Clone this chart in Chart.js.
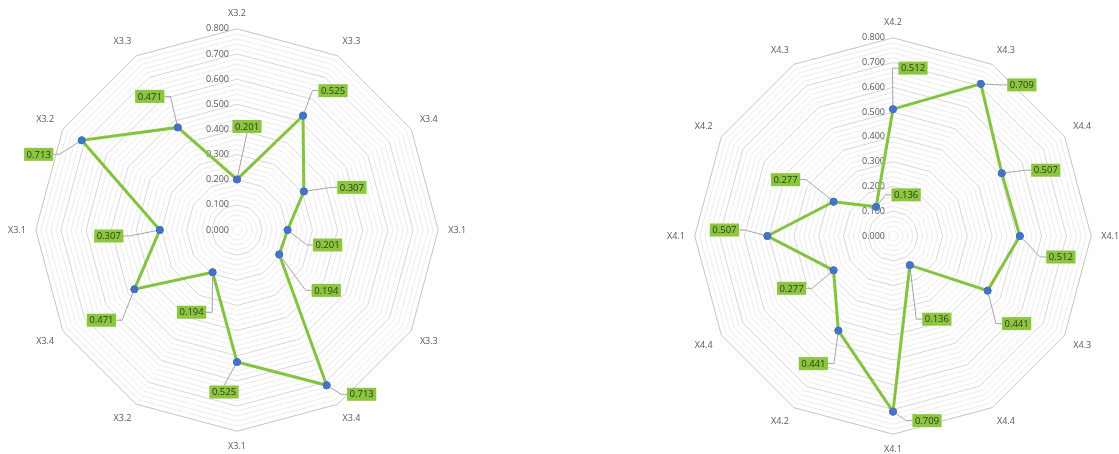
<!DOCTYPE html>
<html>
<head>
<meta charset="utf-8">
<script src="https://cdn.jsdelivr.net/npm/chart.js@4/dist/chart.umd.min.js"></script>
<style>
  html, body { margin: 0; padding: 0; background: #fff; overflow: hidden; width: 1119px; height: 454px; }
  .wrap { position: absolute; }
  #wrapX3 { left: 0px; top: 9px; width: 474px; height: 444px; }
  #wrapX4 { left: 663px; top: 18px; width: 460px; height: 438px; }
</style>
</head>
<body>
<div class="wrap" id="wrapX3"><canvas id="radarX3"></canvas></div>
<div class="wrap" id="wrapX4"><canvas id="radarX4"></canvas></div>
<script>
// Axis labels (clockwise from the top) and values for each radar
const labelsX3 = ['X3.2', 'X3.3', 'X3.4', 'X3.1', 'X3.3', 'X3.4', 'X3.1', 'X3.2', 'X3.4', 'X3.1', 'X3.2', 'X3.3'];
const valuesX3 = [0.201, 0.525, 0.307, 0.201, 0.194, 0.713, 0.525, 0.194, 0.471, 0.307, 0.713, 0.471];

const labelsX4 = ['X4.2', 'X4.3', 'X4.4', 'X4.1', 'X4.3', 'X4.4', 'X4.1', 'X4.2', 'X4.4', 'X4.1', 'X4.2', 'X4.3'];
const valuesX4 = [0.512, 0.709, 0.507, 0.512, 0.441, 0.136, 0.709, 0.441, 0.277, 0.507, 0.277, 0.136];

// Radial scale: light rings every 0.02, labelled rings every 0.1
const scaleMin = 0;
const scaleMax = 0.8;
const ringStep = 0.02;
const tickLabels = ['0.000', '0.100', '0.200', '0.300', '0.400', '0.500', '0.600', '0.700', '0.800'];

// Where each value callout sits relative to its point (layout only, in px)
const calloutShiftX3 = [[10, -53], [30, -25], [48, -4], [40, 15], [47, 36], [35, 9], [-13, 30], [-21, 40], [-33, 31], [-51, 6], [-43, 14], [-28, -31]];
const calloutShiftX4 = [[20, -41], [41, 1], [44, -3], [41, 21], [29, 33], [27, 54], [34, 9], [-25, 33], [-42, 18], [-43, -6], [-48, -22], [30, -12]];

const FONT = "'Open Sans', 'Noto Sans', sans-serif";
const TEXT_GREY = '#595959';
const LINE_GREEN = '#84c240';
const BOX_GREEN = '#8cc63f';
const POINT_BLUE = '#4472c4';

function isMajor(v) {
  const q = v / 0.1;
  return Math.abs(q - Math.round(q)) < 1e-6;
}

// Ring values printed just left of the vertical axis, under the series line
const ringLabelPlugin = {
  id: 'ringLabels',
  beforeDatasetsDraw(chart) {
    const r = chart.scales.r;
    const ctx = chart.ctx;
    ctx.save();
    ctx.font = '9px ' + FONT;
    ctx.fillStyle = TEXT_GREY;
    ctx.textAlign = 'right';
    ctx.textBaseline = 'middle';
    tickLabels.forEach(t => {
      const v = parseFloat(t);
      const y = r.yCenter - r.getDistanceFromCenterForValue(v);
      ctx.fillText(t, r.xCenter - 8, y);
    });
    ctx.restore();
  }
};

// Green value callouts joined to their points by thin grey leader lines
const calloutPlugin = {
  id: 'callouts',
  afterDatasetsDraw(chart, args, opts) {
    const ctx = chart.ctx;
    const meta = chart.getDatasetMeta(0);
    const values = chart.data.datasets[0].data;
    const shifts = opts.shifts;
    ctx.save();
    ctx.font = '9.5px ' + FONT;
    meta.data.forEach((pt, i) => {
      const text = values[i].toFixed(3);
      const w = ctx.measureText(text).width + 5;
      const h = 13;
      const cx = pt.x + shifts[i][0];
      const cy = pt.y + shifts[i][1];
      const left = cx - w / 2, right = cx + w / 2, top = cy - h / 2, bottom = cy + h / 2;

      // leader line
      ctx.strokeStyle = '#a5a5a5';
      ctx.lineWidth = 1;
      ctx.beginPath();
      ctx.moveTo(pt.x, pt.y);
      if (pt.x < left - 2) {
        ctx.lineTo(left - 6, cy);
        ctx.lineTo(left, cy);
      } else if (pt.x > right + 2) {
        ctx.lineTo(right + 6, cy);
        ctx.lineTo(right, cy);
      } else if (pt.y < top) {
        ctx.lineTo(cx, top);
      } else {
        ctx.lineTo(cx, bottom);
      }
      ctx.stroke();

      // box and value
      ctx.fillStyle = BOX_GREEN;
      ctx.fillRect(left, top, w, h);
      ctx.fillStyle = '#2e3a22';
      ctx.textAlign = 'center';
      ctx.textBaseline = 'middle';
      ctx.fillText(text, cx, cy + 0.5);
    });
    ctx.restore();

    // redraw points on top of leader lines
    meta.data.forEach(pt => pt.draw(ctx));
  }
};

function makeRadar(canvasId, labels, values, shifts) {
  return new Chart(document.getElementById(canvasId), {
    type: 'radar',
    data: {
      labels: labels,
      datasets: [{
        data: values,
        borderColor: LINE_GREEN,
        borderWidth: 3,
        backgroundColor: 'transparent',
        fill: false,
        tension: 0,
        pointRadius: 3.5,
        pointBackgroundColor: POINT_BLUE,
        pointBorderColor: POINT_BLUE,
        pointBorderWidth: 1
      }]
    },
    options: {
      responsive: true,
      maintainAspectRatio: false,
      animation: false,
      events: [],
      layout: { padding: 0 },
      plugins: {
        legend: { display: false },
        tooltip: { enabled: false },
        callouts: { shifts: shifts }
      },
      scales: {
        r: {
          min: scaleMin,
          max: scaleMax,
          beginAtZero: true,
          angleLines: { display: false },
          grid: {
            lineWidth: 1,
            color: c => {
              const v = c.tick ? c.tick.value : 0;
              if (Math.abs(v - scaleMax) < 1e-6) return '#c4c4c4';
              return isMajor(v) ? '#d6d6d6' : '#ececec';
            }
          },
          ticks: { display: false, stepSize: ringStep },
          pointLabels: {
            color: TEXT_GREY,
            font: { family: FONT, size: 9 },
            padding: 10
          }
        }
      }
    },
    plugins: [ringLabelPlugin, calloutPlugin]
  });
}

makeRadar('radarX3', labelsX3, valuesX3, calloutShiftX3);
makeRadar('radarX4', labelsX4, valuesX4, calloutShiftX4);
</script>
</body>
</html>
